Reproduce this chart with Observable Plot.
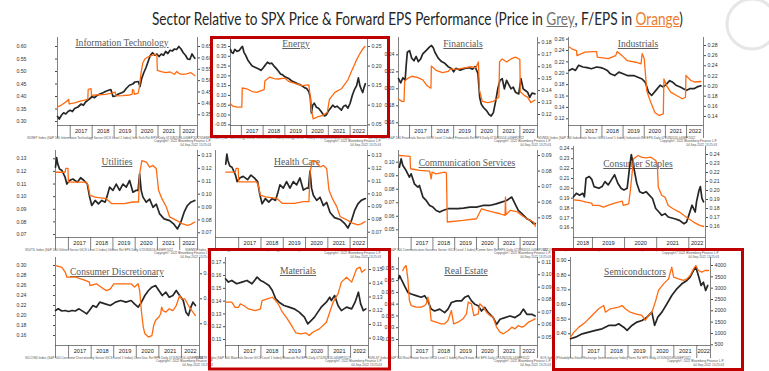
<!DOCTYPE html>
<html><head><meta charset="utf-8">
<script src="https://cdn.jsdelivr.net/npm/d3@7"></script>
<script src="https://cdn.jsdelivr.net/npm/@observablehq/plot@0.6"></script>
<style>
html,body{margin:0;padding:0;background:#fff;}
#root{position:relative;width:769px;height:371px;overflow:hidden;background:#fff;}
#root svg{position:absolute;}
#title{position:absolute;left:152px;top:10px;white-space:nowrap;font-family:Lato,'Open Sans',sans-serif;font-size:16.5px;line-height:19px;color:#262626;transform-origin:0 0;}
#title .g{color:#767676;text-decoration:underline;}
#title .o{color:#ED7D31;text-decoration:underline;}
</style></head><body><div id="root"></div>
<script>
// ---------------- DATA ----------------
const titleParts = ["Sector Relative to SPX Price & Forward EPS Performance (Price in ", "Grey", ", F/EPS in ", "Orange", ")"];
const yearsMain = [2017, 2018, 2019, 2020, 2021, 2022];
const yearsStaples = [2018, 2019, 2020, 2021, 2022];

const panelTitles = ["Information Technology","Energy","Financials","Industrials","Utilities","Health Care","Communication Services","Consumer Staples","Consumer Discretionary","Materials","Real Estate","Semiconductors"];

const footerLines = [
 "S5INFT Index (S&P 500 Information Technology Sector GICS Level 1 Index) Info Tech Rel EPS  Daily 07JUN2016-04SEP2022",
 "S5ENRS Index (S&P 500 Energy Sector GICS Level 1 Index) Energy Rel EPS  Daily 07JUN2016-04SEP2022",
 "S5FINL Index (S&P 500 Financials Sector GICS Level 1 Index) Financials Rel EPS  Daily 07JUN2016-04SEP2022",
 "S5INDU Index (S&P 500 Industrials Sector GICS Level 1 Index) Industrials Rel EPS  Daily 07JUN2016-04SEP2022",
 "S5UTIL Index (S&P 500 Utilities Sector GICS Level 1 Index) Utilities Rel EPS  Daily 07JUN2016-04SEP2022",
 "S5ENRS Index (S&P 500 Energy Sector GICS Level 1 Index) Energy Rel EPS  Daily 07JUN2016-04SEP2022",
 "S5TELS Index (S&P 500 Communication Services Sector GICS Level 1 Index) Comm Serv Rel EPS  Daily 07JUN2016-04SEP2022",
 "S5CONS Index (S&P 500 Consumer Staples Sector GICS Level 1 Index) Cons Stap Rel EPS  Daily 07JUN2018-04SEP2022",
 "S5COND Index (S&P 500 Consumer Discretionary Sector GICS Level 1 Index) Cons Disc Rel EPS  Daily 07JUN2016-04SEP2022",
 "S5MATR Index (S&P 500 Materials Sector GICS Level 1 Index) Materials Rel EPS  Daily 07JUN2016-04SEP2022",
 "S5RLST Index (S&P 500 Real Estate Sector GICS Level 1 Index) Real Estate Rel EPS  Daily 07JUN2016-04SEP2022",
 "SOX Index (Philadelphia Stock Exchange Semiconductor Index) Semi Rel EPS  Daily 07JUN2016-04SEP2022"
];
const copyrightLine = "Copyright\u00A9 2022 Bloomberg Finance L.P.";
const stampLine = "04-Sep-2022 13:25:03";

// tick values
const itLeftTicks = [0.30,0.35,0.40,0.45,0.50,0.55,0.60];
const itRightTicks = [0.35,0.40,0.45,0.50,0.55,0.60,0.65];
const energyLeftTicks = [-0.05,0,0.05,0.10,0.15,0.20,0.25,0.30,0.35];
const energyRightTicks = [0.05,0.10,0.15,0.20,0.25];
const finLeftTicks = [0.16,0.18,0.20,0.22,0.24];
const finRightTicks = [0.12,0.13,0.14,0.15,0.16,0.17,0.18];
const indLeftTicks = [0.12,0.14,0.16,0.18,0.20,0.22,0.24,0.26];
const indRightTicks = [0.14,0.16,0.18,0.20,0.22,0.24,0.26,0.28];
const utilLeftTicks = [0.07,0.08,0.09,0.10,0.11,0.12,0.13];
const utilRightTicks = [0.07,0.08,0.09,0.10,0.11,0.12,0.13];
const commLeftTicks = [0.05,0.06,0.07,0.08,0.09,0.10];
const commRightTicks = [0.05,0.06,0.07,0.08,0.09];
const staplesLeftTicks = [0.16,0.17,0.18,0.19,0.20,0.21,0.22,0.23,0.24];
const staplesRightTicks = [0.16,0.17,0.18,0.19,0.20,0.21,0.22,0.23,0.24];
const discLeftTicks = [0.16,0.18,0.20,0.22,0.24,0.26,0.28,0.30];
const discRightTicks = [0.2,0.3,0.4];
const matLeftTicks = [0.11,0.12,0.13,0.14,0.15,0.16,0.17];
const matRightTicks = [0.10,0.11,0.12,0.13,0.14,0.15];
const reLeftTicks = [0.025,0.03,0.035,0.04,0.045,0.05,0.055];
const reRightTicks = [0.05,0.06,0.07,0.08,0.09,0.10,0.11];
const semiLeftTicks = [0.40,0.50,0.60,0.70,0.80,0.90];
const semiRightTicks = [500,1000,1500,2000,2500,3000,3500,4000];

// series: [year, value]
const itPrice = [[2016.42,0.32],[2016.5,0.31],[2016.6,0.325],[2016.7,0.335],[2016.8,0.33],[2016.9,0.34],[2017.0,0.345],[2017.1,0.34],[2017.2,0.352],[2017.35,0.358],[2017.5,0.37],[2017.6,0.365],[2017.7,0.378],[2017.8,0.385],[2017.9,0.392],[2018.0,0.40],[2018.1,0.395],[2018.2,0.403],[2018.35,0.41],[2018.5,0.415],[2018.6,0.42],[2018.75,0.425],[2018.85,0.428],[2018.95,0.40],[2019.05,0.402],[2019.2,0.41],[2019.35,0.415],[2019.45,0.42],[2019.55,0.432],[2019.7,0.445],[2019.85,0.45],[2019.95,0.458],[2020.1,0.46],[2020.18,0.44],[2020.25,0.47],[2020.35,0.495],[2020.45,0.515],[2020.55,0.54],[2020.65,0.565],[2020.75,0.575],[2020.85,0.565],[2020.95,0.57],[2021.05,0.56],[2021.15,0.57],[2021.25,0.565],[2021.35,0.58],[2021.45,0.572],[2021.55,0.585],[2021.65,0.582],[2021.75,0.59],[2021.85,0.588],[2021.95,0.60],[2022.05,0.59],[2022.15,0.575],[2022.25,0.565],[2022.35,0.55],[2022.45,0.548],[2022.55,0.57],[2022.62,0.56],[2022.68,0.553]];
const itEps = [[2016.42,0.385],[2016.55,0.39],[2016.7,0.40],[2016.85,0.41],[2016.93,0.418],[2016.95,0.398],[2017.2,0.402],[2017.45,0.41],[2017.65,0.414],[2017.8,0.418],[2017.82,0.462],[2017.95,0.465],[2017.97,0.435],[2018.3,0.438],[2018.6,0.44],[2018.9,0.445],[2019.05,0.45],[2019.08,0.433],[2019.4,0.434],[2019.7,0.437],[2019.82,0.44],[2019.84,0.462],[2019.9,0.455],[2019.92,0.44],[2020.1,0.445],[2020.15,0.47],[2020.22,0.53],[2020.3,0.575],[2020.4,0.595],[2020.55,0.605],[2020.7,0.61],[2020.85,0.615],[2020.95,0.612],[2020.97,0.545],[2021.15,0.54],[2021.35,0.535],[2021.55,0.538],[2021.75,0.528],[2021.85,0.54],[2021.95,0.532],[2022.1,0.528],[2022.3,0.53],[2022.5,0.535],[2022.6,0.528],[2022.68,0.522]];

const energyPrice = [[2016.5,0.335],[2016.55,0.32],[2016.62,0.315],[2016.7,0.335],[2016.8,0.325],[2016.9,0.33],[2017.0,0.345],[2017.05,0.35],[2017.12,0.32],[2017.2,0.305],[2017.3,0.28],[2017.4,0.265],[2017.5,0.25],[2017.6,0.245],[2017.7,0.24],[2017.8,0.235],[2017.9,0.228],[2018.0,0.24],[2018.1,0.255],[2018.2,0.27],[2018.3,0.262],[2018.4,0.265],[2018.5,0.25],[2018.6,0.238],[2018.7,0.225],[2018.8,0.21],[2018.9,0.205],[2019.0,0.195],[2019.1,0.19],[2019.2,0.185],[2019.3,0.175],[2019.4,0.17],[2019.5,0.165],[2019.6,0.158],[2019.7,0.155],[2019.8,0.148],[2019.9,0.14],[2020.0,0.135],[2020.1,0.12],[2020.17,0.09],[2020.22,0.01],[2020.28,0.05],[2020.35,0.06],[2020.45,0.04],[2020.55,0.035],[2020.65,0.02],[2020.75,0.005],[2020.82,-0.005],[2020.9,0.0],[2021.0,0.02],[2021.1,0.035],[2021.2,0.05],[2021.3,0.04],[2021.4,0.045],[2021.5,0.035],[2021.6,0.025],[2021.7,0.045],[2021.8,0.05],[2021.9,0.035],[2022.0,0.06],[2022.1,0.1],[2022.2,0.13],[2022.3,0.15],[2022.38,0.19],[2022.45,0.15],[2022.52,0.13],[2022.58,0.115],[2022.64,0.14],[2022.7,0.16]];
const energyEps = [[2016.5,0.104],[2016.6,0.098],[2016.8,0.095],[2017.02,0.095],[2017.04,0.144],[2017.25,0.142],[2017.5,0.135],[2017.7,0.133],[2017.95,0.138],[2018.05,0.14],[2018.08,0.162],[2018.3,0.172],[2018.5,0.168],[2018.7,0.167],[2019.0,0.169],[2019.2,0.16],[2019.5,0.155],[2019.8,0.15],[2020.1,0.152],[2020.15,0.13],[2020.22,0.09],[2020.3,0.065],[2020.5,0.07],[2020.75,0.074],[2020.95,0.082],[2021.05,0.115],[2021.3,0.133],[2021.6,0.142],[2021.9,0.165],[2022.05,0.185],[2022.25,0.21],[2022.45,0.232],[2022.6,0.245],[2022.68,0.25]];

const finPrice = [[2016.5,0.212],[2016.6,0.207],[2016.7,0.213],[2016.8,0.21],[2016.85,0.228],[2016.9,0.243],[2017.0,0.245],[2017.1,0.236],[2017.2,0.233],[2017.3,0.238],[2017.4,0.232],[2017.5,0.235],[2017.6,0.241],[2017.75,0.245],[2017.9,0.249],[2018.0,0.251],[2018.08,0.248],[2018.15,0.243],[2018.3,0.236],[2018.45,0.232],[2018.6,0.23],[2018.75,0.226],[2018.9,0.224],[2019.0,0.22],[2019.1,0.224],[2019.3,0.222],[2019.5,0.224],[2019.7,0.225],[2019.85,0.223],[2019.97,0.226],[2020.1,0.218],[2020.18,0.19],[2020.25,0.182],[2020.35,0.178],[2020.5,0.174],[2020.6,0.17],[2020.7,0.168],[2020.8,0.172],[2020.9,0.185],[2021.0,0.2],[2021.1,0.21],[2021.2,0.212],[2021.3,0.2],[2021.4,0.21],[2021.5,0.205],[2021.6,0.2],[2021.7,0.202],[2021.8,0.196],[2021.95,0.194],[2022.05,0.212],[2022.15,0.2],[2022.25,0.198],[2022.35,0.196],[2022.45,0.19],[2022.55,0.195],[2022.68,0.194]];
const finEps = [[2016.5,0.133],[2016.65,0.131],[2016.75,0.131],[2016.78,0.148],[2016.9,0.15],[2017.1,0.152],[2017.35,0.151],[2017.6,0.149],[2017.8,0.144],[2017.97,0.142],[2017.99,0.1605],[2018.2,0.157],[2018.5,0.155],[2018.75,0.156],[2018.85,0.158],[2019.2,0.158],[2019.5,0.159],[2019.8,0.16],[2020.0,0.159],[2020.12,0.164],[2020.17,0.14],[2020.3,0.131],[2020.55,0.13],[2020.8,0.131],[2021.05,0.1345],[2021.08,0.164],[2021.2,0.1665],[2021.4,0.164],[2021.6,0.1665],[2021.8,0.168],[2022.0,0.166],[2022.02,0.139],[2022.2,0.136],[2022.35,0.1345],[2022.5,0.13],[2022.68,0.132]];

const indPrice = [[2016.45,0.205],[2016.6,0.208],[2016.75,0.205],[2016.9,0.214],[2017.1,0.211],[2017.3,0.21],[2017.5,0.208],[2017.75,0.211],[2017.95,0.21],[2018.1,0.208],[2018.25,0.205],[2018.4,0.199],[2018.6,0.196],[2018.8,0.202],[2019.0,0.199],[2019.2,0.196],[2019.5,0.196],[2019.7,0.193],[2019.9,0.19],[2020.05,0.184],[2020.2,0.167],[2020.35,0.161],[2020.55,0.17],[2020.75,0.179],[2020.9,0.176],[2021.05,0.181],[2021.2,0.187],[2021.35,0.184],[2021.5,0.179],[2021.7,0.176],[2021.9,0.172],[2022.0,0.17],[2022.15,0.173],[2022.35,0.173],[2022.5,0.176],[2022.68,0.178]];
const indEps = [[2016.45,0.277],[2016.6,0.273],[2016.8,0.27],[2016.82,0.26],[2017.2,0.267],[2017.55,0.268],[2017.75,0.268],[2017.78,0.257],[2018.3,0.254],[2018.65,0.26],[2018.72,0.268],[2018.95,0.26],[2019.2,0.25],[2019.6,0.247],[2019.85,0.244],[2019.9,0.264],[2020.0,0.254],[2020.12,0.19],[2020.28,0.171],[2020.5,0.148],[2020.7,0.142],[2020.9,0.145],[2020.93,0.214],[2021.05,0.201],[2021.25,0.188],[2021.55,0.181],[2021.8,0.175],[2021.95,0.178],[2021.97,0.221],[2022.2,0.211],[2022.4,0.208],[2022.68,0.209]];

const utilPrice = [[2016.42,0.1234],[2016.47,0.131],[2016.52,0.126],[2016.6,0.122],[2016.7,0.121],[2016.85,0.1154],[2016.93,0.11],[2017.05,0.1128],[2017.2,0.114],[2017.4,0.1115],[2017.55,0.115],[2017.7,0.1128],[2017.85,0.11],[2017.95,0.1],[2018.05,0.093],[2018.2,0.097],[2018.35,0.0943],[2018.5,0.097],[2018.65,0.0956],[2018.75,0.101],[2018.85,0.1075],[2019.0,0.105],[2019.15,0.11],[2019.3,0.105],[2019.45,0.11],[2019.6,0.1075],[2019.75,0.1128],[2019.9,0.1035],[2020.05,0.105],[2020.13,0.105],[2020.2,0.118],[2020.27,0.105],[2020.35,0.0996],[2020.5,0.0956],[2020.65,0.098],[2020.8,0.0916],[2020.95,0.094],[2021.1,0.0863],[2021.3,0.0824],[2021.55,0.081],[2021.75,0.078],[2021.9,0.0744],[2022.05,0.0797],[2022.2,0.0877],[2022.35,0.093],[2022.5,0.0956],[2022.68,0.097]];
const utilEps = [[2016.42,0.117],[2016.85,0.117],[2016.88,0.12],[2016.98,0.12],[2017.0,0.1094],[2017.4,0.1094],[2017.8,0.1094],[2017.88,0.1068],[2017.97,0.099],[2018.2,0.0977],[2018.7,0.0965],[2018.95,0.0926],[2019.5,0.0926],[2019.9,0.0939],[2020.15,0.0939],[2020.2,0.1158],[2020.3,0.126],[2020.5,0.1248],[2020.65,0.121],[2020.8,0.1223],[2020.95,0.1197],[2021.05,0.103],[2021.2,0.0965],[2021.4,0.09],[2021.55,0.0823],[2021.85,0.0797],[2022.1,0.0771],[2022.35,0.0758],[2022.5,0.0765],[2022.68,0.0784]];

const commPrice = [[2016.46,0.0963],[2016.54,0.1025],[2016.62,0.0975],[2016.77,0.0938],[2016.92,0.089],[2017.0,0.0914],[2017.15,0.084],[2017.31,0.0815],[2017.38,0.0828],[2017.54,0.0742],[2017.69,0.0717],[2017.85,0.068],[2018.0,0.0668],[2018.15,0.0643],[2018.31,0.0631],[2018.46,0.0643],[2018.69,0.0656],[2018.9,0.0656],[2019.15,0.0656],[2019.4,0.066],[2019.7,0.0668],[2020.0,0.0668],[2020.3,0.068],[2020.6,0.068],[2020.9,0.0692],[2021.15,0.0705],[2021.38,0.0717],[2021.62,0.0742],[2021.77,0.0692],[2021.92,0.0643],[2022.08,0.0619],[2022.31,0.0582],[2022.46,0.057],[2022.62,0.0545],[2022.7,0.0545]];
const commEps = [[2016.46,0.09],[2016.7,0.0897],[2016.95,0.0894],[2016.97,0.0815],[2017.38,0.0804],[2017.85,0.08],[2017.92,0.075],[2017.96,0.0793],[2018.15,0.0782],[2018.54,0.0793],[2018.62,0.0787],[2018.66,0.0473],[2019.38,0.0483],[2020.0,0.0494],[2020.23,0.0558],[2020.46,0.0547],[2020.77,0.0537],[2021.08,0.0526],[2021.31,0.0515],[2021.33,0.0633],[2021.35,0.052],[2021.54,0.0547],[2021.85,0.054],[2022.08,0.0515],[2022.31,0.0494],[2022.62,0.0473],[2022.7,0.0445]];

const staplesPrice = [[2018.41,0.1914],[2018.5,0.1949],[2018.6,0.193],[2018.7,0.1949],[2018.75,0.1914],[2018.8,0.2102],[2018.9,0.212],[2018.98,0.209],[2019.05,0.2017],[2019.2,0.20],[2019.3,0.2017],[2019.39,0.2068],[2019.49,0.2034],[2019.59,0.2085],[2019.69,0.2137],[2019.79,0.2051],[2019.89,0.20],[2019.98,0.1983],[2020.08,0.2],[2020.16,0.2222],[2020.21,0.2342],[2020.28,0.2222],[2020.38,0.2051],[2020.47,0.1966],[2020.57,0.1949],[2020.67,0.1966],[2020.77,0.1931],[2020.87,0.1897],[2020.97,0.1795],[2021.07,0.176],[2021.16,0.1726],[2021.26,0.1743],[2021.36,0.1709],[2021.56,0.1692],[2021.71,0.1675],[2021.85,0.1641],[2021.93,0.1658],[2022.0,0.1726],[2022.1,0.1829],[2022.2,0.176],[2022.24,0.1863],[2022.32,0.1983],[2022.36,0.2017],[2022.41,0.1897],[2022.46,0.1863]];
const staplesEps = [[2018.41,0.1896],[2018.6,0.1889],[2018.8,0.1871],[2018.98,0.186],[2019.0,0.1834],[2019.2,0.1834],[2019.34,0.1815],[2019.49,0.1834],[2019.69,0.186],[2019.93,0.1882],[2019.96,0.1834],[2020.13,0.1852],[2020.18,0.20],[2020.28,0.2352],[2020.42,0.2389],[2020.52,0.237],[2020.67,0.2363],[2020.82,0.237],[2020.97,0.2333],[2021.02,0.2296],[2021.05,0.2037],[2021.16,0.1945],[2021.26,0.1926],[2021.36,0.1834],[2021.51,0.1797],[2021.71,0.176],[2021.85,0.1723],[2022.0,0.1686],[2022.15,0.1649],[2022.34,0.1612],[2022.46,0.16]];

const discPrice = [[2016.42,0.21],[2016.54,0.2133],[2016.7,0.209],[2016.85,0.21],[2017.0,0.208],[2017.15,0.21],[2017.3,0.209],[2017.46,0.2133],[2017.69,0.2067],[2017.8,0.2033],[2017.92,0.21],[2018.08,0.22],[2018.23,0.2167],[2018.38,0.2267],[2018.62,0.2233],[2018.85,0.22],[2019.08,0.2267],[2019.31,0.23],[2019.54,0.2267],[2019.77,0.23],[2019.92,0.2233],[2020.08,0.2167],[2020.23,0.2267],[2020.38,0.24],[2020.54,0.25],[2020.69,0.2567],[2020.85,0.26],[2021.0,0.25],[2021.15,0.24],[2021.31,0.2467],[2021.46,0.2367],[2021.62,0.24],[2021.77,0.25],[2021.92,0.24],[2022.08,0.23],[2022.2,0.2067],[2022.31,0.20],[2022.42,0.2167],[2022.51,0.2267],[2022.62,0.22]];
const discEps = [[2016.42,0.433],[2016.69,0.427],[2016.85,0.407],[2016.92,0.387],[2017.31,0.387],[2017.77,0.373],[2017.92,0.367],[2017.95,0.353],[2018.23,0.36],[2018.54,0.34],[2018.69,0.333],[2018.85,0.34],[2019.0,0.36],[2019.31,0.36],[2019.77,0.36],[2019.92,0.347],[2020.08,0.36],[2020.15,0.333],[2020.23,0.247],[2020.31,0.187],[2020.38,0.16],[2020.54,0.147],[2020.69,0.153],[2020.77,0.193],[2020.85,0.213],[2021.0,0.227],[2021.08,0.24],[2021.12,0.267],[2021.18,0.253],[2021.31,0.247],[2021.46,0.26],[2021.62,0.253],[2021.77,0.273],[2021.92,0.313],[2022.0,0.30],[2022.15,0.30],[2022.31,0.273],[2022.46,0.253],[2022.62,0.233]];

const matPrice = [[2016.42,0.1575],[2016.55,0.1549],[2016.7,0.1562],[2016.92,0.1536],[2017.15,0.1549],[2017.38,0.1562],[2017.6,0.1536],[2017.83,0.1588],[2017.98,0.1562],[2018.13,0.1549],[2018.36,0.1523],[2018.51,0.1483],[2018.66,0.1418],[2018.81,0.1392],[2019.03,0.1366],[2019.26,0.1353],[2019.48,0.134],[2019.71,0.1314],[2019.94,0.1275],[2020.09,0.1222],[2020.24,0.1248],[2020.39,0.1275],[2020.54,0.1314],[2020.69,0.1353],[2020.92,0.1392],[2021.07,0.1431],[2021.14,0.1405],[2021.29,0.1444],[2021.44,0.1366],[2021.59,0.1326],[2021.82,0.1353],[2022.05,0.134],[2022.2,0.1392],[2022.35,0.147],[2022.45,0.1379],[2022.57,0.1326],[2022.68,0.134]];
const matEps = [[2016.42,0.1262],[2016.7,0.1262],[2016.85,0.1225],[2017.0,0.1225],[2017.08,0.125],[2017.23,0.1238],[2017.45,0.1213],[2017.75,0.12],[2017.98,0.1213],[2018.05,0.1274],[2018.28,0.1286],[2018.51,0.1298],[2018.66,0.1274],[2018.81,0.1238],[2018.96,0.1189],[2019.18,0.114],[2019.41,0.108],[2019.56,0.1038],[2019.79,0.1031],[2020.01,0.1038],[2020.16,0.1019],[2020.31,0.1043],[2020.61,0.1068],[2020.92,0.1116],[2021.07,0.1189],[2021.22,0.1262],[2021.44,0.1323],[2021.59,0.1408],[2021.82,0.1444],[2022.05,0.1408],[2022.27,0.1505],[2022.42,0.1517],[2022.5,0.148],[2022.65,0.15]];

const rePrice = [[2016.42,0.0507],[2016.47,0.0521],[2016.54,0.0507],[2016.69,0.0479],[2016.85,0.045],[2017.0,0.0443],[2017.23,0.0436],[2017.46,0.0429],[2017.62,0.0436],[2017.77,0.0414],[2017.92,0.0379],[2018.08,0.0371],[2018.31,0.0379],[2018.54,0.0364],[2018.69,0.0379],[2018.85,0.0407],[2019.08,0.0414],[2019.31,0.0414],[2019.46,0.0429],[2019.62,0.0436],[2019.77,0.0414],[2019.92,0.04],[2020.08,0.0393],[2020.23,0.0371],[2020.38,0.0386],[2020.54,0.0364],[2020.77,0.0343],[2020.92,0.0314],[2021.08,0.0336],[2021.31,0.0343],[2021.54,0.035],[2021.77,0.0343],[2022.0,0.0357],[2022.15,0.0379],[2022.31,0.0357],[2022.54,0.0357],[2022.69,0.035]];
const reEps = [[2016.62,0.1033],[2016.69,0.106],[2016.77,0.1073],[2016.85,0.0967],[2016.92,0.0793],[2017.0,0.0753],[2017.23,0.074],[2017.46,0.074],[2017.62,0.0753],[2017.69,0.0767],[2017.77,0.082],[2017.85,0.0753],[2017.92,0.0633],[2018.15,0.062],[2018.38,0.0607],[2018.54,0.0607],[2018.69,0.0633],[2018.85,0.0713],[2018.95,0.0607],[2019.15,0.062],[2019.38,0.0647],[2019.54,0.0687],[2019.62,0.078],[2019.77,0.0767],[2019.88,0.0673],[2020.08,0.0687],[2020.15,0.0767],[2020.31,0.074],[2020.46,0.07],[2020.62,0.0673],[2020.77,0.066],[2020.92,0.058],[2021.08,0.054],[2021.23,0.0527],[2021.46,0.0553],[2021.62,0.058],[2021.77,0.0567],[2021.92,0.0593],[2022.08,0.058],[2022.23,0.0593],[2022.38,0.062],[2022.54,0.0633],[2022.69,0.0647]];

const semiPrice = [[2016.49,0.366],[2016.71,0.377],[2017.0,0.40],[2017.29,0.411],[2017.58,0.423],[2017.87,0.434],[2018.16,0.457],[2018.45,0.457],[2018.59,0.468],[2018.81,0.445],[2018.96,0.423],[2019.17,0.457],[2019.39,0.48],[2019.61,0.491],[2019.83,0.514],[2020.04,0.548],[2020.16,0.457],[2020.3,0.514],[2020.48,0.548],[2020.7,0.605],[2020.91,0.661],[2021.13,0.707],[2021.35,0.741],[2021.57,0.764],[2021.71,0.786],[2021.86,0.832],[2021.96,0.855],[2022.07,0.798],[2022.19,0.73],[2022.29,0.752],[2022.39,0.695],[2022.48,0.73]];
const semiEps = [[2016.49,840],[2016.64,1060],[2016.86,1280],[2017.14,1500],[2017.43,1795],[2017.72,2090],[2017.94,2236],[2018.01,1940],[2018.23,2090],[2018.59,2160],[2018.74,2236],[2018.88,2090],[2019.1,1940],[2019.32,1870],[2019.61,1795],[2019.75,1575],[2019.9,1795],[2020.04,1940],[2020.19,2383],[2020.33,2900],[2020.55,3190],[2020.77,3410],[2020.91,3930],[2020.99,3485],[2021.2,3410],[2021.42,3340],[2021.57,3410],[2021.71,3560],[2021.86,3853],[2021.96,4000],[2022.07,3780],[2022.22,3706],[2022.36,3780],[2022.51,3780]];

// ---------------- LAYOUT ----------------
const f2 = d => d.toFixed(2), f1 = d => d.toFixed(1), f0 = d => d.toFixed(0), ft = d => String(+d.toFixed(3));
const R1 = [37, 125], R2 = [150, 237], R3 = [257, 345];
const specs = [
 {x:[57,197], y:R1, t:[2016.42,2022.8], years:yearsMain, price:itPrice, eps:itEps, L:{ticks:itLeftTicks,a:[0.60,46],b:[0.30,121],fmt:f2,pad:29}, R:{ticks:itRightTicks,a:[0.65,46],b:[0.35,114.3],fmt:f2}, title:[122,46]},
 {x:[230,367], y:R1, t:[2016.5,2022.8], years:yearsMain, price:energyPrice, eps:energyEps, L:{ticks:energyLeftTicks,a:[0.35,46],b:[-0.05,124.3],fmt:f2,pad:2}, R:{ticks:energyRightTicks,a:[0.25,46],b:[0.05,124.3],fmt:f2}, title:[296,47]},
 {x:[398,537], y:R1, t:[2016.5,2022.8], years:yearsMain, price:finPrice, eps:finEps, L:{ticks:finLeftTicks,a:[0.24,54.3],b:[0.16,122.3],fmt:f2,pad:2}, R:{ticks:finRightTicks,a:[0.18,42.3],b:[0.12,114],fmt:f2}, title:[463,47]},
 {x:[568,703], y:R1, t:[2016.42,2022.8], years:yearsMain, price:indPrice, eps:indEps, L:{ticks:indLeftTicks,a:[0.24,50],b:[0.12,118.3],fmt:f2,pad:2}, R:{ticks:indRightTicks,a:[0.28,45],b:[0.14,116],fmt:f2}, title:[638,47]},
 {x:[55,197], y:R2, t:[2016.42,2022.8], years:yearsMain, price:utilPrice, eps:utilEps, L:{ticks:utilLeftTicks,a:[0.13,158.3],b:[0.07,234],fmt:f2,pad:27}, R:{ticks:utilRightTicks,a:[0.13,155],b:[0.07,232.3],fmt:f2}, title:[117,165]},
 {x:[215,367], y:R2, t:[2015.96,2022.78], years:yearsMain, price:utilPrice, eps:utilEps, L:{ticks:utilLeftTicks,a:[0.13,155],b:[0.07,233.3],fmt:f2,pad:2,hide:true}, R:{ticks:utilRightTicks,a:[0.13,155],b:[0.07,231.7],fmt:f2}, title:[297,165]},
 {x:[398,537], y:R2, t:[2016.42,2022.8], years:yearsMain, price:commPrice, eps:commEps, L:{ticks:commLeftTicks,a:[0.10,161.7],b:[0.05,229.3],fmt:f2,pad:2}, R:{ticks:commRightTicks,a:[0.09,155],b:[0.05,217.3],fmt:f2}, title:[467,166]},
 {x:[573,705], y:[146,237], t:[2018.41,2022.52], years:yearsStaples, price:staplesPrice, eps:staplesEps, L:{ticks:staplesLeftTicks,a:[0.24,148.3],b:[0.16,227.3],fmt:f2,pad:2}, R:{ticks:staplesRightTicks,a:[0.24,154],b:[0.16,226],fmt:f2}, title:[638,167]},
 {x:[55,199], y:R3, t:[2016.42,2022.8], years:yearsMain, price:discPrice, eps:discEps, L:{ticks:discLeftTicks,a:[0.30,265],b:[0.16,335],fmt:f2,pad:27}, R:{ticks:discRightTicks,a:[0.4,273.3],b:[0.2,323.3],fmt:f1}, title:[117,275]},
 {x:[225,368], y:R3, t:[2016.42,2022.8], years:yearsMain, price:matPrice, eps:matEps, L:{ticks:matLeftTicks,a:[0.17,262.3],b:[0.11,339],fmt:f2,pad:2}, R:{ticks:matRightTicks,a:[0.15,269],b:[0.10,337.7],fmt:f2}, title:[298,274]},
 {x:[398,537], y:R3, t:[2016.42,2022.8], years:yearsMain, price:rePrice, eps:reEps, L:{ticks:reLeftTicks,a:[0.055,268.3],b:[0.025,339],fmt:ft,pad:2}, R:{ticks:reRightTicks,a:[0.11,261.7],b:[0.05,336.7],fmt:f2}, title:[466,274]},
 {x:[570,710], y:R3, t:[2016.49,2022.6], years:yearsMain, price:semiPrice, eps:semiEps, L:{ticks:semiLeftTicks,a:[0.90,260],b:[0.40,333.3],fmt:f2,pad:2}, R:{ticks:semiRightTicks,a:[4000,265],b:[500,344.3],fmt:f0}, title:[635,275]}
];

const root = document.getElementById("root");
const NS = "http://www.w3.org/2000/svg";
const FR = "#4a4a4a", BLACK = "#262626", ORANGE = "#ff6a10";
const FONT = "'Liberation Sans', Arial, sans-serif";

function el(tag, attrs, parent, text) {
  const e = document.createElementNS(NS, tag);
  for (const k in attrs) e.setAttribute(k, attrs[k]);
  if (text != null) e.textContent = text;
  if (parent) parent.appendChild(e);
  return e;
}
function lin(a, b, p) { return a[0] + (p - a[1]) * (b[0] - a[0]) / (b[1] - a[1]); }

// background layer (titles + footers)
const bgLayer = el("svg", {width: 769, height: 371, style: "left:0;top:0"}, root);
specs.forEach((s, i) => {
  el("text", {x: s.title[0], y: s.title[1], "text-anchor": "middle", "font-family": "'Liberation Serif','Times New Roman',serif", "font-size": 9.6, fill: "#5a5a5a", "text-decoration": "underline"}, bgLayer, panelTitles[i]);
  const fy = s.y[1] + 13.5;
  const lx = s.x[0] - 30, rx = s.x[1] + 14;
  el("text", {x: lx, y: fy, "font-family": FONT, "font-size": 3.1, fill: "#555"}, bgLayer, footerLines[i]);
  el("text", {x: rx, y: fy + 3.8, "text-anchor": "end", "font-family": FONT, "font-size": 3.1, fill: "#555"}, bgLayer, copyrightLine);
  el("text", {x: rx, y: fy + 7.4, "text-anchor": "end", "font-family": FONT, "font-size": 3.1, fill: "#555"}, bgLayer, stampLine);
});

// panels
const ML = 36, MR = 36, MB = 16;
specs.forEach(s => {
  const [x0, x1] = s.x, [y0, y1] = s.y;
  const width = x1 - x0 + ML + MR, height = y1 - y0 + MB;
  const seps = [s.t[0], ...s.years.filter(y => y > s.t[0] && y < s.t[1]), s.t[1]];
  const labs = s.years.map(y => (Math.max(y, s.t[0]) + Math.min(y + 1, s.t[1])) / 2);
  const style = {background: "transparent", fontFamily: FONT, overflow: "visible"};
  const common = {width, height, marginLeft: ML, marginRight: MR, marginTop: 0, marginBottom: MB, style};
  const yLdom = [lin(s.L.a, s.L.b, y1), lin(s.L.a, s.L.b, y0)];
  const yRdom = [lin(s.R.a, s.R.b, y1), lin(s.R.a, s.R.b, y0)];
  const A = Plot.plot({
    ...common,
    x: {type: "linear", domain: s.t},
    y: {domain: yLdom},
    marks: [
      Plot.ruleY([yLdom[0]], {stroke: FR, strokeWidth: 0.7}),
      Plot.ruleX([s.t[0], s.t[1]], {stroke: FR, strokeWidth: 0.7}),
      Plot.axisX(seps, {tickSize: 13, tickFormat: () => "", stroke: FR, strokeWidth: 0.7}),
      Plot.axisX(labs, {tickSize: 0, tickPadding: 3.5, tickFormat: d => String(Math.floor(d)), fontSize: 5.6, fill: "#222"}),
      s.L.hide ? Plot.axisY([], {anchor: "left"}) : Plot.axisY(s.L.ticks, {anchor: "left", tickSize: 2, tickPadding: s.L.pad, tickFormat: s.L.fmt, fontSize: 5.2, fill: "#333", stroke: FR}),
      Plot.line(s.price, {x: d => d[0], y: d => d[1], stroke: BLACK, strokeWidth: 1.7})
    ]
  });
  const B = Plot.plot({
    ...common,
    x: {type: "linear", domain: s.t, axis: null},
    y: {domain: yRdom},
    marks: [
      Plot.axisY(s.R.ticks, {anchor: "right", tickSize: 2, tickPadding: 2, tickFormat: s.R.fmt, fontSize: 5.2, fill: "#333", stroke: FR}),
      Plot.line(s.eps, {x: d => d[0], y: d => d[1], stroke: ORANGE, strokeWidth: 1.3})
    ]
  });
  for (const svg of [A, B]) {
    svg.style.position = "absolute";
    svg.style.left = (x0 - ML) + "px";
    svg.style.top = y0 + "px";
    svg.style.maxWidth = "none";
    root.appendChild(svg);
  }
});

// top layer: red boxes, ornament
const topLayer = el("svg", {width: 769, height: 371, style: "left:0;top:0"}, root);
el("circle", {cx: 752, cy: 24, r: 25, fill: "none", stroke: "#e6e6e6", "stroke-width": 3}, topLayer);
const RED = "#c00000";
el("rect", {x: 211.5, y: 37.5, width: 177, height: 99, fill: "none", stroke: RED, "stroke-width": 3}, topLayer);
el("rect", {x: 209.5, y: 249.5, width: 180, height: 119.5, fill: "none", stroke: RED, "stroke-width": 3}, topLayer);
el("rect", {x: 553.5, y: 249.5, width: 189, height: 120, fill: "none", stroke: RED, "stroke-width": 3}, topLayer);

// main title (HTML), fitted to the reference width
const title = document.createElement("div");
title.id = "title";
titleParts.forEach((p, i) => {
  const sp = document.createElement("span");
  if (i === 1) sp.className = "g";
  if (i === 3) sp.className = "o";
  sp.textContent = p;
  title.appendChild(sp);
});
root.appendChild(title);
const tw = title.getBoundingClientRect().width;
title.style.transform = "scaleX(" + (531 / tw) + ")";
</script></body></html>
